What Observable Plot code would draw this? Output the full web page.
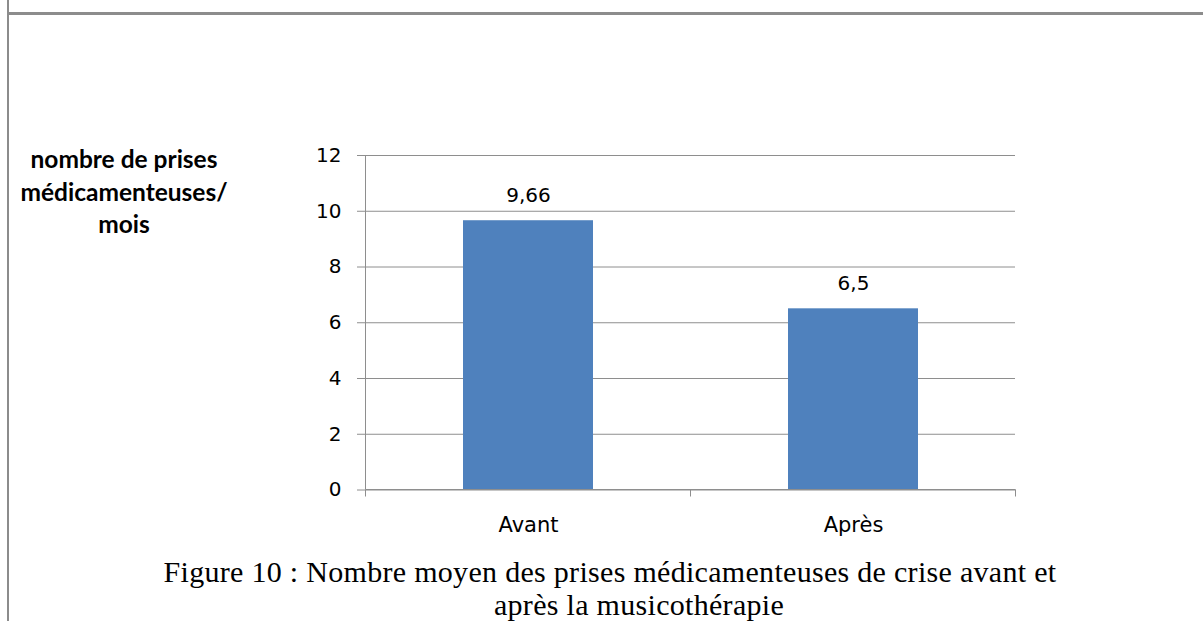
<!DOCTYPE html>
<html>
<head>
<meta charset="utf-8">
<script src="https://cdn.jsdelivr.net/npm/d3@7"></script>
<script src="https://cdn.jsdelivr.net/npm/@observablehq/plot@0.6"></script>
<style>
  html, body { margin: 0; padding: 0; background: #fff; }
  #page { position: relative; width: 1203px; height: 621px; overflow: hidden; background: #fff; }
  #topline { position: absolute; left: 8px; top: 12px; width: 1195px; height: 3px; background: #8c8c8c; }
  #leftline { position: absolute; left: 7px; top: 0; width: 2px; height: 621px; background: #8c8c8c; }
  #ytitle { position: absolute; left: 4px; top: 143px; width: 240px; text-align: center;
    font-family: Lato, "Open Sans", sans-serif; font-weight: bold; font-size: 24.5px; line-height: 32.5px; color: #000; }
  #chart { position: absolute; left: 0; top: 0; }
  .cap { position: absolute; text-align: center; white-space: nowrap;
    font-family: "Liberation Serif", "Times New Roman", serif; font-size: 30px; line-height: 33px; color: #000; letter-spacing: 0.3px; }
  #cap1 { left: 10px; width: 1200px; top: 555px; }
  #cap2 { left: 39px; width: 1200px; top: 588px; }
</style>
</head>
<body>
<div id="page">
  <div id="leftline"></div>
  <div id="topline"></div>
  <div id="chart"></div>
  <div id="ytitle">nombre de prises<br>médicamenteuses/<br>mois</div>
  <div class="cap" id="cap1">Figure 10 : Nombre moyen des prises médicamenteuses de crise avant et</div>
  <div class="cap" id="cap2">après la musicothérapie</div>
</div>
<script>
const categories = ["Avant", "Après"];
const values = [9.66, 6.5];
const yTicks = [0, 2, 4, 6, 8, 10, 12];
const valueLabels = ["9,66", "6,5"];

const data = categories.map((c, i) => ({cat: c, value: values[i], label: valueLabels[i]}));

const gridColor = "#8e8e8e";
const font = "'DejaVu Sans', sans-serif";
const plot = Plot.plot({
  width: 1203,
  height: 545,
  marginTop: 155,
  marginBottom: 55.5,
  marginLeft: 365,
  marginRight: 188,
  style: {fontFamily: font, fontSize: "20px", color: "#000", background: "transparent"},
  x: {domain: categories, paddingInner: 0.6, paddingOuter: 0.3, label: null},
  y: {domain: [0, 12], ticks: yTicks, label: null},
  marks: [
    Plot.gridY(yTicks, {stroke: gridColor, strokeOpacity: 1, strokeWidth: 1}),
    Plot.axisY(yTicks, {tickSize: 8, tickPadding: 16, stroke: gridColor, strokeOpacity: 1, label: null, fontSize: 20}),
    Plot.barY(data, {x: "cat", y: "value", fill: "#4f81bd"}),
    Plot.text(data, {x: "cat", y: "value", text: "label", dy: -25, fontSize: 20, fill: "#000"}),
    Plot.axisX({tickSize: 0, tickPadding: 27, label: null, fontSize: 21})
  ]
});
document.getElementById("chart").appendChild(plot);

// axis lines and category-boundary ticks drawn from the plot's own scales
const xs = plot.scale("x");
const ys = plot.scale("y");
const svg = d3.select(plot);
const y0 = ys.apply(0), yTop = ys.apply(12);
const step = xs.step, bw = xs.bandwidth;
const first = xs.apply(categories[0]) - (step - bw) / 2;
const bounds = d3.range(categories.length + 1).map(i => first + i * step);
const g = svg.append("g").attr("stroke", gridColor).attr("stroke-width", 1);
g.append("line").attr("x1", bounds[0]).attr("x2", bounds[0]).attr("y1", yTop).attr("y2", y0);
g.append("line").attr("x1", bounds[0]).attr("x2", bounds[bounds.length - 1]).attr("y1", y0).attr("y2", y0);
bounds.forEach(b => g.append("line").attr("x1", b).attr("x2", b).attr("y1", y0).attr("y2", y0 + 7));
</script>
</body>
</html>
